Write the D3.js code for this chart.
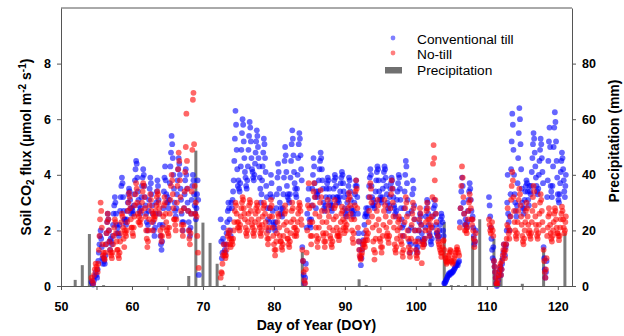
<!DOCTYPE html>
<html>
<head>
<meta charset="utf-8">
<script src="https://cdn.jsdelivr.net/npm/d3@7"></script>
<style>
  body { margin: 0; background: #fff; }
  svg { display: block; font-family: "Liberation Sans", Arial, sans-serif; }
</style>
</head>
<body>
<div id="chart"></div>
<script>
// runs of measurements: [start day, end day, flux values spread over that span]
const ctRuns = [
  [54.3, 55, [0.15, 0.1, 0.05, 0.2, 0.35, 0.5]],
  [55, 56, [0.4, 0.3, 0.6, 0.9, 1.2, 1.5, 1.8, 2.0, 1.7, 1.4, 1.0, 0.8]],
  [56, 57, [1.0, 0.9, 0.8, 1.1, 1.5, 1.9, 2.3, 2.6, 2.4, 2.0, 1.6, 1.3]],
  [57, 58, [1.7, 1.6, 1.5, 1.8, 2.2, 2.6, 2.9, 3.2, 3.0, 2.6, 2.2, 1.9]],
  [58, 59, [2.1, 1.9, 1.8, 2.2, 2.7, 3.2, 3.6, 3.9, 3.7, 3.2, 2.7, 2.4]],
  [59, 60, [2.4, 2.3, 2.2, 2.4, 2.7, 3.0, 3.3, 3.5, 3.4, 3.1, 2.8, 2.6]],
  [60, 61, [2.8, 2.7, 2.6, 2.9, 3.3, 3.8, 4.2, 4.5, 4.4, 3.9, 3.4, 3.1]],
  [61, 62, [2.9, 2.7, 2.6, 2.8, 3.2, 3.6, 3.9, 4.2, 4.0, 3.6, 3.2, 2.9]],
  [62, 63, [2.6, 2.3, 2.0, 2.2, 2.7, 3.1, 3.5, 3.9, 3.7, 3.3, 2.9, 2.6]],
  [63, 64, [2.3, 2.0, 1.8, 2.1, 2.6, 3.0, 3.4, 3.8, 3.6, 3.1, 2.6, 2.2]],
  [64, 65, [1.8, 1.5, 1.3, 1.6, 2.2, 2.8, 3.4, 3.9, 4.3, 3.8, 3.3, 3.0]],
  [65, 66, [3.2, 3.0, 2.8, 3.1, 3.7, 4.3, 4.8, 5.4, 5.1, 4.6, 4.0, 3.5]],
  [66, 67, [3.0, 2.7, 2.5, 2.8, 3.3, 3.8, 4.2, 4.6, 4.4, 4.0, 3.5, 3.1]],
  [67, 68, [2.6, 2.3, 2.0, 2.3, 2.8, 3.3, 3.8, 4.2, 4.0, 3.5, 3.0, 2.7]],
  [68, 69, [2.3, 2.0, 1.8, 2.1, 2.6, 3.1, 3.6, 4.0, 3.8, 3.3, 2.9, 2.6]],
  [69, 69.5, [2.4, 2.8, 3.3, 3.8, 3.1, 0.4]],
  [72.5, 73, [2.4, 1.6, 1.0, 1.2, 1.7, 2.1]],
  [73, 74, [1.5, 1.3, 1.2, 1.5, 1.9, 2.3, 2.7, 3.0, 2.8, 2.4, 2.0, 1.8]],
  [74, 75, [3.0, 2.8, 3.1, 3.4, 3.8, 4.5, 5.3, 6.3, 5.8, 4.9, 4.2, 3.6]],
  [75, 76, [3.8, 3.5, 3.4, 3.7, 4.3, 4.9, 5.5, 6.0, 5.8, 5.2, 4.6, 4.1]],
  [76, 77, [3.9, 3.6, 3.5, 3.8, 4.3, 4.9, 5.4, 5.9, 5.7, 5.2, 4.6, 4.2]],
  [77, 78, [4.1, 3.9, 3.8, 4.0, 4.4, 4.8, 5.2, 5.6, 5.4, 5.0, 4.6, 4.3]],
  [78, 79, [3.9, 3.5, 3.0, 3.3, 3.8, 4.3, 4.8, 5.3, 5.1, 4.6, 4.1, 3.6]],
  [79, 80, [3.2, 2.8, 2.4, 2.0, 2.3, 2.8, 3.3, 4.0, 3.7, 3.2, 2.7, 2.3]],
  [80, 81, [2.2, 2.1, 2.0, 2.3, 2.8, 3.3, 3.9, 4.4, 4.1, 3.5, 3.0, 2.6]],
  [81, 82, [2.8, 2.6, 2.5, 2.8, 3.3, 3.9, 4.5, 5.0, 4.7, 4.1, 3.6, 3.2]],
  [82, 83, [3.3, 3.1, 3.0, 3.3, 3.9, 4.5, 5.1, 5.6, 5.3, 4.7, 4.1, 3.7]],
  [83, 84, [3.5, 3.3, 3.2, 3.5, 4.0, 4.6, 5.1, 5.5, 5.3, 4.7, 4.2, 3.8]],
  [84, 84.6, [1.4, 0.9, 0.4, 0.1, 0.3, 0.8]],
  [84.6, 85, [2.1, 2.6, 3.1, 3.5]],
  [85, 86, [2.4, 2.2, 2.1, 2.4, 2.9, 3.5, 4.0, 4.6, 4.3, 3.7, 3.2, 2.8]],
  [86, 87, [3.4, 3.3, 3.2, 3.4, 3.8, 4.2, 4.5, 4.8, 4.6, 4.2, 3.8, 3.5]],
  [87, 88, [3.0, 2.8, 2.7, 2.9, 3.2, 3.5, 3.7, 3.9, 3.8, 3.5, 3.2, 3.0]],
  [88, 89, [2.9, 2.8, 2.7, 2.9, 3.2, 3.5, 3.8, 4.0, 3.9, 3.6, 3.2, 3.0]],
  [89, 90, [3.2, 3.1, 3.0, 3.2, 3.4, 3.7, 3.9, 4.1, 4.0, 3.7, 3.4, 3.2]],
  [90, 91, [2.8, 2.6, 2.5, 2.7, 3.0, 3.3, 3.6, 3.9, 3.8, 3.4, 3.1, 2.8]],
  [91, 92, [2.7, 2.6, 2.5, 2.7, 3.0, 3.3, 3.6, 3.8, 3.6, 3.2, 2.6, 1.9]],
  [92, 93, [1.6, 1.3, 1.05, 0.75, 1.0, 1.3, 1.5, 1.65, 1.9, 2.2, 2.5, 2.6]],
  [93, 94, [2.8, 2.6, 2.5, 2.8, 3.2, 3.6, 3.9, 4.2, 4.0, 3.6, 3.2, 2.9]],
  [94, 95, [3.1, 2.9, 2.8, 3.0, 3.4, 3.8, 4.1, 4.3, 4.2, 3.8, 3.4, 3.1]],
  [95, 96, [3.2, 3.1, 3.0, 3.2, 3.5, 3.8, 4.1, 4.3, 4.2, 3.9, 3.6, 3.3]],
  [96, 97, [3.0, 2.8, 2.7, 2.9, 3.2, 3.5, 3.7, 3.9, 3.8, 3.5, 3.2, 2.9]],
  [97, 98, [2.8, 2.6, 2.5, 2.7, 3.1, 3.4, 3.7, 4.0, 3.9, 3.5, 3.1, 2.8]],
  [98, 99, [2.4, 2.1, 1.8, 2.2, 2.8, 3.4, 4.0, 4.5, 4.3, 3.7, 3.1, 2.6]],
  [99, 100, [2.0, 1.6, 1.2, 1.5, 2.1, 2.7, 3.3, 3.8, 3.5, 2.9, 2.4, 2.0]],
  [100, 101, [1.5, 1.3, 1.2, 1.4, 1.7, 2.0, 2.3, 2.6, 2.5, 2.2, 1.9, 1.6]],
  [101, 102, [1.7, 1.6, 1.5, 1.7, 2.1, 2.5, 2.8, 3.1, 3.0, 2.6, 2.2, 1.9]],
  [102, 103, [1.8, 1.6, 1.5, 1.7, 2.1, 2.5, 2.8, 3.1, 2.9, 2.6, 2.2, 1.9]],
  [103, 104, [1.9, 1.8, 1.7, 1.8, 2.0, 2.2, 2.4, 2.6, 2.5, 2.3, 2.0, 1.8]],
  [104, 105, [0.1, 0.1, 0.15, 0.2, 0.25, 0.3, 0.35, 0.4, 0.45, 0.4, 0.45, 0.5]],
  [105, 106.2, [0.45, 0.5, 0.5, 0.55, 0.6, 0.65, 0.7, 0.75, 0.8, 0.75, 0.85, 0.9]],
  [106.2, 107, [2.3, 2.8, 3.4, 3.9, 3.6, 3.0, 2.6, 2.2]],
  [107, 108, [2.4, 2.2, 2.1, 2.3, 2.7, 3.1, 3.4, 3.7, 3.5, 3.1, 2.7, 2.4]],
  [108, 108.5, [2.5, 2.1, 1.8, 1.5, 1.6, 2.0]],
  [110.3, 111, [3.2, 2.9, 2.5, 2.1, 1.7, 1.3, 1.0, 1.4]],
  [111, 112, [0.9, 0.7, 0.5, 0.3, 0.1, 0.0, 0.05, 0.2, 0.35, 0.5, 0.6, 0.7]],
  [112, 112.8, [0.4, 0.6, 0.8, 1.0, 1.2, 1.5, 1.3, 1.1, 1.4, 1.5]],
  [112.8, 113, [2.0, 3.0, 4.0]],
  [113, 114, [2.6, 2.3, 2.0, 2.5, 3.3, 4.2, 5.2, 6.2, 5.8, 4.9, 4.0, 3.3]],
  [114, 115, [3.0, 2.7, 2.5, 2.9, 3.7, 4.6, 5.5, 6.4, 6.0, 5.1, 4.2, 3.5]],
  [115, 116, [3.0, 2.8, 2.6, 2.8, 3.1, 3.4, 3.6, 3.8, 3.7, 3.4, 3.1, 2.9]],
  [116, 117, [3.6, 3.4, 3.3, 3.6, 4.1, 4.6, 5.1, 5.5, 5.3, 4.8, 4.3, 3.9]],
  [117, 118, [3.6, 3.4, 3.3, 3.5, 4.0, 4.5, 4.9, 5.3, 5.1, 4.6, 4.1, 3.7]],
  [118, 118.5, [1.4, 1.0, 0.6, 0.3, 0.5, 0.9]],
  [118.5, 119, [3.2, 3.8, 4.5, 5.2, 5.7, 5.0]],
  [119, 120, [3.6, 3.4, 3.2, 3.6, 4.3, 5.0, 5.7, 6.25, 5.9, 5.2, 4.5, 3.9]],
  [120, 121, [3.3, 3.1, 3.0, 3.3, 3.7, 4.1, 4.5, 4.8, 4.6, 4.2, 3.8, 3.4]],
  [121, 121.2, [3.2, 3.6, 4.0]]
]

const ntRuns = [
  [54.3, 55, [0.3, 0.2, 0.1, 0.4, 0.6, 0.8]],
  [55, 56, [0.7, 0.6, 0.5, 0.8, 1.3, 1.8, 2.4, 3.0, 2.7, 2.1, 1.5, 1.1]],
  [56, 57, [1.2, 1.0, 0.95, 1.2, 1.5, 1.9, 2.3, 2.6, 2.4, 2.0, 1.6, 1.3]],
  [57, 58, [1.2, 1.1, 1.0, 1.2, 1.5, 1.8, 2.1, 2.4, 2.3, 1.9, 1.6, 1.3]],
  [58, 59, [1.3, 1.1, 1.0, 1.2, 1.6, 1.9, 2.3, 2.6, 2.5, 2.1, 1.7, 1.4]],
  [59, 60, [2.0, 1.9, 1.8, 2.0, 2.3, 2.7, 3.0, 3.35, 3.2, 2.8, 2.4, 2.1]],
  [60, 61, [2.1, 1.9, 1.8, 2.1, 2.5, 2.9, 3.3, 3.7, 3.5, 3.0, 2.6, 2.3]],
  [61, 62, [2.5, 2.3, 2.2, 2.4, 2.7, 3.0, 3.4, 3.7, 3.6, 3.2, 2.8, 2.5]],
  [62, 63, [2.0, 1.7, 1.4, 1.6, 2.0, 2.4, 2.9, 3.3, 3.1, 2.7, 2.3, 2.0]],
  [63, 64, [2.6, 2.5, 2.4, 2.5, 2.7, 2.9, 3.2, 3.4, 3.3, 3.0, 2.8, 2.6]],
  [64, 65, [2.0, 1.8, 1.6, 1.8, 2.1, 2.5, 2.9, 3.2, 3.0, 2.6, 2.3, 2.0]],
  [65, 66, [2.1, 1.9, 1.8, 2.1, 2.6, 3.1, 3.6, 4.0, 3.8, 3.3, 2.8, 2.4]],
  [66, 67, [2.4, 2.2, 2.0, 2.4, 3.0, 3.6, 4.2, 4.8, 4.5, 3.8, 3.2, 2.7]],
  [67, 68, [2.2, 2.0, 1.8, 2.2, 2.8, 3.4, 4.1, 5.0, 6.2, 4.5, 3.5, 2.7]],
  [68, 69, [2.0, 1.7, 1.5, 1.9, 2.6, 3.4, 4.9, 6.7, 6.95, 5.1, 3.6, 2.6]],
  [69, 69.5, [3.0, 2.5, 1.8, 1.2, 0.65]],
  [72.5, 73, [0.3, 0.5, 0.46, 0.8, 1.1, 1.5]],
  [73, 74, [1.2, 1.1, 1.0, 1.1, 1.3, 1.5, 1.8, 2.0, 1.9, 1.7, 1.5, 1.4]],
  [74, 75, [1.7, 1.6, 1.5, 1.7, 2.0, 2.3, 2.7, 3.0, 2.9, 2.6, 2.3, 2.1]],
  [75, 76, [2.3, 2.1, 2.0, 2.2, 2.5, 2.8, 3.0, 3.2, 3.1, 2.8, 2.6, 2.4]],
  [76, 77, [2.1, 1.9, 1.8, 2.0, 2.3, 2.6, 2.9, 3.1, 3.0, 2.7, 2.4, 2.2]],
  [77, 78, [2.1, 1.9, 1.8, 2.0, 2.3, 2.6, 2.8, 3.0, 2.9, 2.7, 2.4, 2.2]],
  [78, 79, [2.1, 1.9, 1.8, 2.0, 2.2, 2.5, 2.8, 3.0, 2.9, 2.6, 2.3, 2.1]],
  [79, 80, [1.9, 1.7, 1.5, 1.7, 2.1, 2.5, 2.8, 3.1, 2.9, 2.5, 2.1, 1.8]],
  [80, 81, [1.5, 1.3, 1.1, 1.3, 1.6, 1.9, 2.3, 2.6, 2.5, 2.1, 1.8, 1.6]],
  [81, 82, [1.6, 1.4, 1.3, 1.5, 1.8, 2.2, 2.6, 2.9, 2.7, 2.3, 2.0, 1.7]],
  [82, 83, [1.7, 1.5, 1.4, 1.6, 1.9, 2.3, 2.7, 3.0, 2.8, 2.4, 2.1, 1.8]],
  [83, 84, [2.1, 1.9, 1.8, 2.0, 2.3, 2.6, 2.8, 3.0, 2.9, 2.7, 2.4, 2.2]],
  [84, 84.6, [1.3, 0.9, 0.5, 0.2, 0.1, 0.6]],
  [84.6, 85, [1.2, 2.0, 2.9, 3.7]],
  [85, 86, [2.8, 2.3, 1.8, 1.5, 1.8, 2.3, 2.9, 3.4, 3.7, 3.2, 2.6, 2.1]],
  [86, 87, [1.8, 1.6, 1.4, 1.7, 2.1, 2.5, 3.0, 3.45, 3.2, 2.7, 2.3, 1.9]],
  [87, 88, [1.8, 1.6, 1.4, 1.6, 1.9, 2.3, 2.7, 3.1, 2.9, 2.5, 2.1, 1.8]],
  [88, 89, [1.7, 1.5, 1.4, 1.6, 2.0, 2.4, 2.8, 3.1, 2.9, 2.5, 2.1, 1.8]],
  [89, 90, [1.9, 1.8, 1.65, 1.8, 2.0, 2.3, 2.6, 2.85, 2.7, 2.4, 2.1, 1.9]],
  [90, 91, [2.3, 2.1, 2.0, 2.2, 2.5, 2.8, 3.1, 3.35, 3.2, 2.9, 2.6, 2.4]],
  [91, 92, [2.0, 1.7, 1.55, 1.9, 2.4, 2.9, 3.4, 3.8, 3.5, 2.8, 2.1, 1.6]],
  [92, 93, [1.3, 1.1, 1.0, 0.95, 1.1, 1.2, 1.35, 1.5, 1.6, 1.5, 1.4, 1.65]],
  [93, 94, [2.0, 1.8, 1.65, 1.9, 2.3, 2.7, 3.2, 3.7, 3.5, 3.0, 2.5, 2.1]],
  [94, 95, [1.6, 1.3, 0.95, 1.2, 1.7, 2.2, 2.7, 3.1, 2.9, 2.4, 2.0, 1.7]],
  [95, 96, [1.6, 1.4, 1.2, 1.4, 1.8, 2.2, 2.7, 3.1, 2.9, 2.5, 2.1, 1.8]],
  [96, 97, [1.9, 1.7, 1.55, 1.8, 2.3, 2.8, 3.3, 3.8, 3.5, 3.0, 2.5, 2.1]],
  [97, 98, [1.5, 1.3, 1.2, 1.4, 1.7, 2.0, 2.3, 2.5, 2.4, 2.1, 1.8, 1.6]],
  [98, 99, [1.5, 1.2, 1.05, 1.3, 1.8, 2.3, 2.8, 3.2, 3.0, 2.5, 2.0, 1.7]],
  [99, 100, [1.4, 1.2, 1.05, 1.3, 1.7, 2.2, 2.6, 3.0, 2.8, 2.4, 2.0, 1.6]],
  [100, 101, [1.3, 1.1, 1.0, 1.2, 1.6, 2.0, 2.4, 2.8, 2.6, 2.2, 0.82, 1.5]],
  [101, 102, [1.4, 1.6, 1.5, 1.7, 2.0, 2.3, 2.7, 3.0, 2.8, 2.4, 2.0, 1.8]],
  [102, 103, [2.4, 2.2, 2.1, 2.5, 3.2, 4.4, 5.07, 4.6, 3.8, 3.1, 2.6, 2.3]],
  [103, 104, [2.0, 1.8, 1.6, 1.5, 1.4, 1.3, 1.2, 1.05, 1.2, 1.4, 1.6, 1.65]],
  [104, 105, [1.3, 1.1, 1.0, 0.9, 0.8, 0.85, 0.9, 1.0, 1.1, 1.2, 1.3, 1.25]],
  [105, 106.2, [0.9, 0.85, 0.8, 0.9, 1.0, 1.1, 1.2, 1.3, 1.4, 1.3, 1.2, 1.1]],
  [106.2, 107, [2.1, 2.8, 3.6, 4.3, 3.9, 3.2, 2.6, 2.0]],
  [107, 108, [2.2, 2.0, 1.9, 2.1, 2.4, 2.7, 3.0, 3.3, 3.1, 2.8, 2.4, 2.2]],
  [108, 108.5, [2.4, 2.0, 1.7, 1.4, 1.6, 1.9]],
  [110.3, 111, [2.4, 2.2, 2.0, 1.9, 2.1, 2.3, 2.0, 1.8]],
  [111, 112, [0.9, 0.7, 0.5, 0.3, 0.1, 0.05, 0.1, 0.25, 0.4, 0.55, 0.7, 0.8]],
  [112, 112.8, [0.4, 0.6, 0.9, 1.1, 1.3, 1.5, 1.2, 1.0, 1.3, 1.5]],
  [112.8, 113, [1.7, 2.2, 2.8]],
  [113, 114, [2.1, 1.9, 1.7, 2.0, 2.5, 3.1, 3.6, 4.1, 3.8, 3.2, 2.7, 2.3]],
  [114, 115, [2.0, 1.8, 1.7, 1.9, 2.3, 2.7, 3.1, 3.5, 3.3, 2.9, 2.5, 2.2]],
  [115, 116, [1.8, 1.6, 1.5, 1.7, 2.0, 2.3, 2.7, 3.0, 2.8, 2.5, 2.2, 1.9]],
  [116, 117, [2.0, 1.8, 1.7, 1.9, 2.3, 2.7, 3.2, 3.6, 3.4, 2.9, 2.5, 2.2]],
  [117, 118, [2.0, 1.8, 1.7, 1.9, 2.2, 2.6, 3.0, 3.3, 3.1, 2.7, 2.3, 2.0]],
  [118, 118.5, [1.3, 0.9, 0.5, 0.3, 0.6, 1.0]],
  [118.5, 119, [1.8, 2.1, 2.5, 2.8, 2.6, 2.2]],
  [119, 120, [1.9, 1.7, 1.6, 1.8, 2.0, 2.3, 2.6, 2.8, 2.7, 2.4, 2.1, 1.9]],
  [120, 121, [1.9, 1.8, 1.65, 1.8, 2.1, 2.4, 2.6, 2.85, 2.7, 2.4, 2.1, 1.9]],
  [121, 121.2, [2.0, 2.3, 2.5]]
]

// daily precipitation (mm)
const rainDays = [52, 53, 54, 56, 68, 69, 70, 71, 72, 73, 84, 92, 93, 102, 104, 105, 106, 107, 108, 109, 111, 112, 115, 118, 121]
const rainMm = [2.2, 7.5, 18.7, 0.3, 3.6, 48.7, 22.8, 15.5, 8, 0.4, 12.2, 2.4, 0.3, 1.2, 23, 0.3, 0.3, 0.3, 18, 24, 17, 10, 0.8, 13.5, 19]

const xTicks = [50, 55, 60, 65, 70, 75, 80, 85, 90, 95, 100, 105, 110, 115, 120]
const fluxTicks = [0, 2, 4, 6, 8]
const rainTicks = [0, 20, 40, 60, 80]

let width = 624
let height = 336
let margin = ({ top: 8, right: 52, bottom: 50, left: 61 })

let x = d3.scaleLinear()
    .domain([50, 122])
    .range([margin.left, width - margin.right])
let y = d3.scaleLinear()
    .domain([0, 10])
    .range([height - margin.bottom, margin.top])
let yRain = d3.scaleLinear()
    .domain([0, 100])
    .range([height - margin.bottom, margin.top])

// spread each run's values evenly across its time span
let toPoints = runs => runs.flatMap(([a, b, vals]) =>
    vals.map((v, i) => ({ day: a + (b - a) * i / vals.length, flux: v })))

let svg = d3.select("#chart")
    .append("svg")
    .attr("width", width)
    .attr("height", height)
    .attr("viewBox", [0, 0, width, height])

// precipitation bars
svg.append("g")
    .attr("fill", "#7a7a7a")
    .selectAll("rect")
    .data(rainDays.map((d, i) => ({ day: d, mm: rainMm[i] })))
    .join("rect")
    .attr("x", d => x(d.day) - 1.5)
    .attr("width", 3)
    .attr("y", d => yRain(d.mm))
    .attr("height", d => yRain(0) - yRain(d.mm))

// flux points, conventional till first then no-till on top
let series = [
    { runs: ctRuns, color: "#0000ff" },
    { runs: ntRuns, color: "#ff0000" }
]
series.forEach(s => {
    svg.append("g")
        .attr("fill", s.color)
        .attr("fill-opacity", 0.6)
        .selectAll("circle")
        .data(toPoints(s.runs))
        .join("circle")
        .attr("cx", d => x(d.day))
        .attr("cy", d => y(d.flux))
        .attr("r", 2.9)
})

let styleAxis = g => {
    g.selectAll("path, line").attr("stroke", "#555")
    g.selectAll("text")
        .attr("fill", "#000")
        .attr("font-size", 12.5)
        .attr("font-weight", "bold")
        .attr("font-family", "'Liberation Sans', Arial, sans-serif")
}

svg.append("g")
    .attr("transform", `translate(0,${height - margin.bottom})`)
    .call(d3.axisBottom(x).tickValues(xTicks).tickSize(4).tickPadding(12).tickSizeOuter(0)
        .tickFormat(d => d % 10 ? "" : d))
    .call(styleAxis)

svg.append("g")
    .attr("transform", `translate(${margin.left},0)`)
    .call(d3.axisLeft(y).tickValues(fluxTicks).tickSize(4).tickPadding(6).tickSizeOuter(0))
    .call(styleAxis)

svg.append("g")
    .attr("transform", `translate(${width - margin.right},0)`)
    .call(d3.axisRight(yRain).tickValues(rainTicks).tickSize(4).tickPadding(6).tickSizeOuter(0))
    .call(styleAxis)

// top frame line
svg.append("line")
    .attr("x1", margin.left).attr("x2", width - margin.right)
    .attr("y1", margin.top).attr("y2", margin.top)
    .attr("stroke", "#555")

// axis titles
svg.append("text")
    .attr("x", (margin.left + width - margin.right) / 2)
    .attr("y", 330)
    .attr("text-anchor", "middle")
    .attr("font-size", 14)
    .attr("font-weight", "bold")
    .text("Day of Year (DOY)")

let yTitle = svg.append("text")
    .attr("transform", `translate(31,${(margin.top + height - margin.bottom) / 2}) rotate(-90)`)
    .attr("text-anchor", "middle")
    .attr("font-size", 14)
    .attr("font-weight", "bold")
yTitle.append("tspan").text("Soil CO")
yTitle.append("tspan").attr("dy", 3).attr("font-size", 10).text("2")
yTitle.append("tspan").attr("dy", -3).text(" flux (µmol m")
yTitle.append("tspan").attr("dy", -5).attr("font-size", 10).text("-2")
yTitle.append("tspan").attr("dy", 5).text(" s")
yTitle.append("tspan").attr("dy", -5).attr("font-size", 10).text("-1")
yTitle.append("tspan").attr("dy", 5).text(")")

svg.append("text")
    .attr("transform", `translate(619,141) rotate(-90)`)
    .attr("text-anchor", "middle")
    .attr("font-size", 14)
    .attr("font-weight", "bold")
    .text("Precipitation (mm)")

// legend
let legend = svg.append("g").attr("font-size", 13.7)
legend.append("circle").attr("cx", 393).attr("cy", 38).attr("r", 2.4)
    .attr("fill", "#0000ff").attr("fill-opacity", 0.5)
legend.append("text").attr("x", 417).attr("y", 44).text("Conventional till")
legend.append("circle").attr("cx", 393).attr("cy", 53).attr("r", 2.4)
    .attr("fill", "#ff0000").attr("fill-opacity", 0.5)
legend.append("text").attr("x", 417).attr("y", 59).text("No-till")
legend.append("rect").attr("x", 385).attr("y", 67).attr("width", 17).attr("height", 6.5)
    .attr("fill", "#707070")
legend.append("text").attr("x", 417).attr("y", 74.5).text("Precipitation")
</script>
</body>
</html>
